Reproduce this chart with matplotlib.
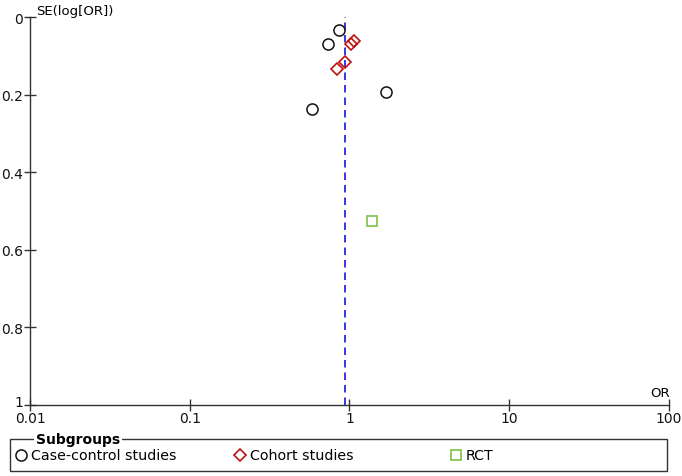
import matplotlib
matplotlib.use("Agg")
import matplotlib.pyplot as plt
import matplotlib.transforms as mtransforms
from matplotlib.lines import Line2D
from matplotlib.patches import Rectangle

# Funnel plot data (OR, SE(log[OR]))
case_control_or = [0.86, 0.73, 1.69, 0.58]
case_control_se = [0.034, 0.070, 0.194, 0.237]
cohort_or = [1.02, 1.07, 0.84, 0.94]
cohort_se = [0.069, 0.062, 0.134, 0.117]
rct_or = [1.38]
rct_se = [0.526]
pooled_or = 0.94

x_ticks = [0.01, 0.1, 1, 10, 100]
x_tick_labels = ["0.01", "0.1", "1", "10", "100"]
y_ticks = [0, 0.2, 0.4, 0.6, 0.8, 1]
y_tick_labels = ["0", "0.2", "0.4", "0.6", "0.8", "1"]
subgroup_names = ["Case-control studies", "Cohort studies", "RCT"]

plt.rcParams["font.family"] = ["DejaVu Sans"]
W, H = 682, 477
fig = plt.figure(figsize=(W / 100, H / 100), dpi=100)
ax = fig.add_axes([30 / W, 1 - 406 / H, 639 / W, 388 / H])

axis_col = "#333333"
circle_kw = dict(marker="o", markersize=8, mfc="none", mec="#111111", mew=1.1, ls="none")
diamond_kw = dict(marker="D", markersize=6.6, mfc="none", mec="#c01010", mew=1.2, ls="none")
square_kw = dict(marker="s", markersize=7, mfc="none", mec="#72bb35", mew=1.1, ls="none")

ax.axvline(pooled_or, color="#1515e0", lw=1.2, ls=(0, (4.5, 3)), zorder=1)
ax.plot(case_control_or, case_control_se, **circle_kw)
ax.plot(cohort_or, cohort_se, **diamond_kw)
ax.plot(rct_or, rct_se, **square_kw)

ax.set_xscale("log")
ax.set_xlim(0.01, 100)
ax.set_ylim(1, 0)
ax.set_xticks(x_ticks)
ax.set_xticklabels(x_tick_labels)
ax.minorticks_off()
ax.set_yticks(y_ticks)
ax.set_yticklabels(y_tick_labels)
for s in ["top", "right"]:
    ax.spines[s].set_visible(False)
for s in ["left", "bottom"]:
    ax.spines[s].set_color(axis_col)
    ax.spines[s].set_linewidth(1.0)
ax.tick_params(direction="inout", length=8, width=1.0, color=axis_col,
               labelsize=10, labelcolor="#111111", pad=1)
ax.tick_params(axis="x", pad=0.5)

# nudge the bottom "1" label up so it clears "0.01"
last = ax.get_yticklabels()[-1]
last.set_transform(last.get_transform() +
                   mtransforms.ScaledTranslation(0, 3 / 72, fig.dpi_scale_trans))

fig.text(36 / W, 1 - 12 / H, "SE(log[OR])", fontsize=9.5, va="center", ha="left")
fig.text(660 / W, 1 - 394 / H, "OR", fontsize=9.5, va="center", ha="center")

# legend box
box = Rectangle((10 / W, 1 - 472 / H), 657 / W, 32 / H, transform=fig.transFigure,
                fill=False, ec="#333333", lw=1.0)
fig.add_artist(box)
fig.text(36 / W, 1 - 440 / H, "Subgroups", fontsize=10, fontweight="bold",
         va="center", ha="left",
         bbox=dict(facecolor="white", edgecolor="none", pad=1.5))
marker_styles = [circle_kw, diamond_kw, square_kw]
x_marker = [21, 240, 456]
for name, kw, xm in zip(subgroup_names, marker_styles, x_marker):
    fig.add_artist(Line2D([xm / W], [1 - 456 / H], transform=fig.transFigure, **kw))
    fig.text((xm + 10) / W, 1 - 456 / H, name, fontsize=10.3, va="center", ha="left")

fig.savefig("out.png", dpi=100)
